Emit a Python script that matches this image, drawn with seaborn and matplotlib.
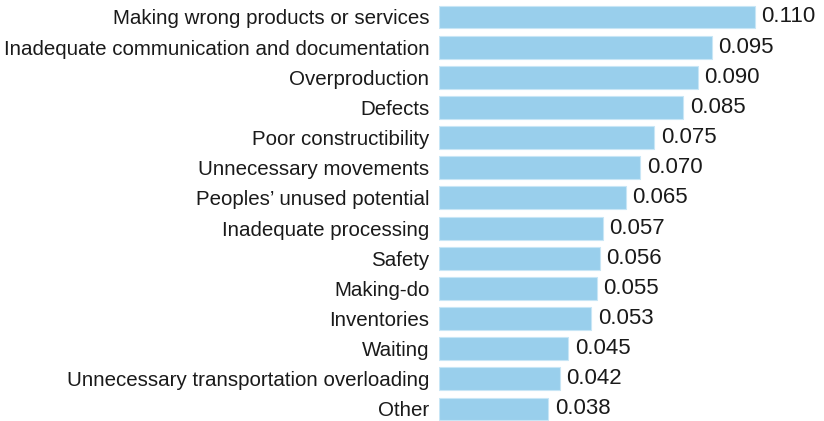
import matplotlib
matplotlib.use("Agg")
import matplotlib.pyplot as plt
import seaborn as sns
import pandas as pd

categories = [
    "Making wrong products or services",
    "Inadequate communication and documentation",
    "Overproduction",
    "Defects",
    "Poor constructibility",
    "Unnecessary movements",
    "Peoples\u2019 unused potential",
    "Inadequate processing",
    "Safety",
    "Making-do",
    "Inventories",
    "Waiting",
    "Unnecessary transportation overloading",
    "Other",
]
values = [0.110, 0.095, 0.090, 0.085, 0.075, 0.070, 0.065, 0.057, 0.056, 0.055, 0.053, 0.045, 0.042, 0.038]
value_labels = ["0.110", "0.095", "0.090", "0.085", "0.075", "0.070", "0.065", "0.057", "0.056", "0.055", "0.053", "0.045", "0.042", "0.038"]

df = pd.DataFrame({"category": categories, "value": values})

sns.set_style("white")
plt.rcParams['font.family'] = ['Liberation Sans', 'DejaVu Sans']

W, H = 824, 421
fig = plt.figure(figsize=(W / 100, H / 100), dpi=100)
ax = fig.add_axes([439 / W, 0, 385 / W, 1])

sns.barplot(data=df, x="value", y="category", orient="h", color="#99CFEC",
            saturation=1, width=0.76, edgecolor="#c8e6f6", linewidth=0.8, ax=ax)

pitch = (409 - 17) / 13
ax.set_ylim(13 + 12 / pitch, -17 / pitch)
ax.set_xlim(0, 385 / (316 / 0.110))

for i, (v, lab) in enumerate(zip(values, value_labels)):
    ax.text(v + 0.0023, i, lab, va="center", ha="left", fontsize=16, color="#1a1a1a")

ax.set_xlabel("")
ax.set_ylabel("")
ax.set_xticks([])
ax.tick_params(axis="y", length=0, pad=7, labelsize=14.8, labelcolor="#1a1a1a")
for s in ax.spines.values():
    s.set_visible(False)

fig.savefig("out.png", dpi=100)
